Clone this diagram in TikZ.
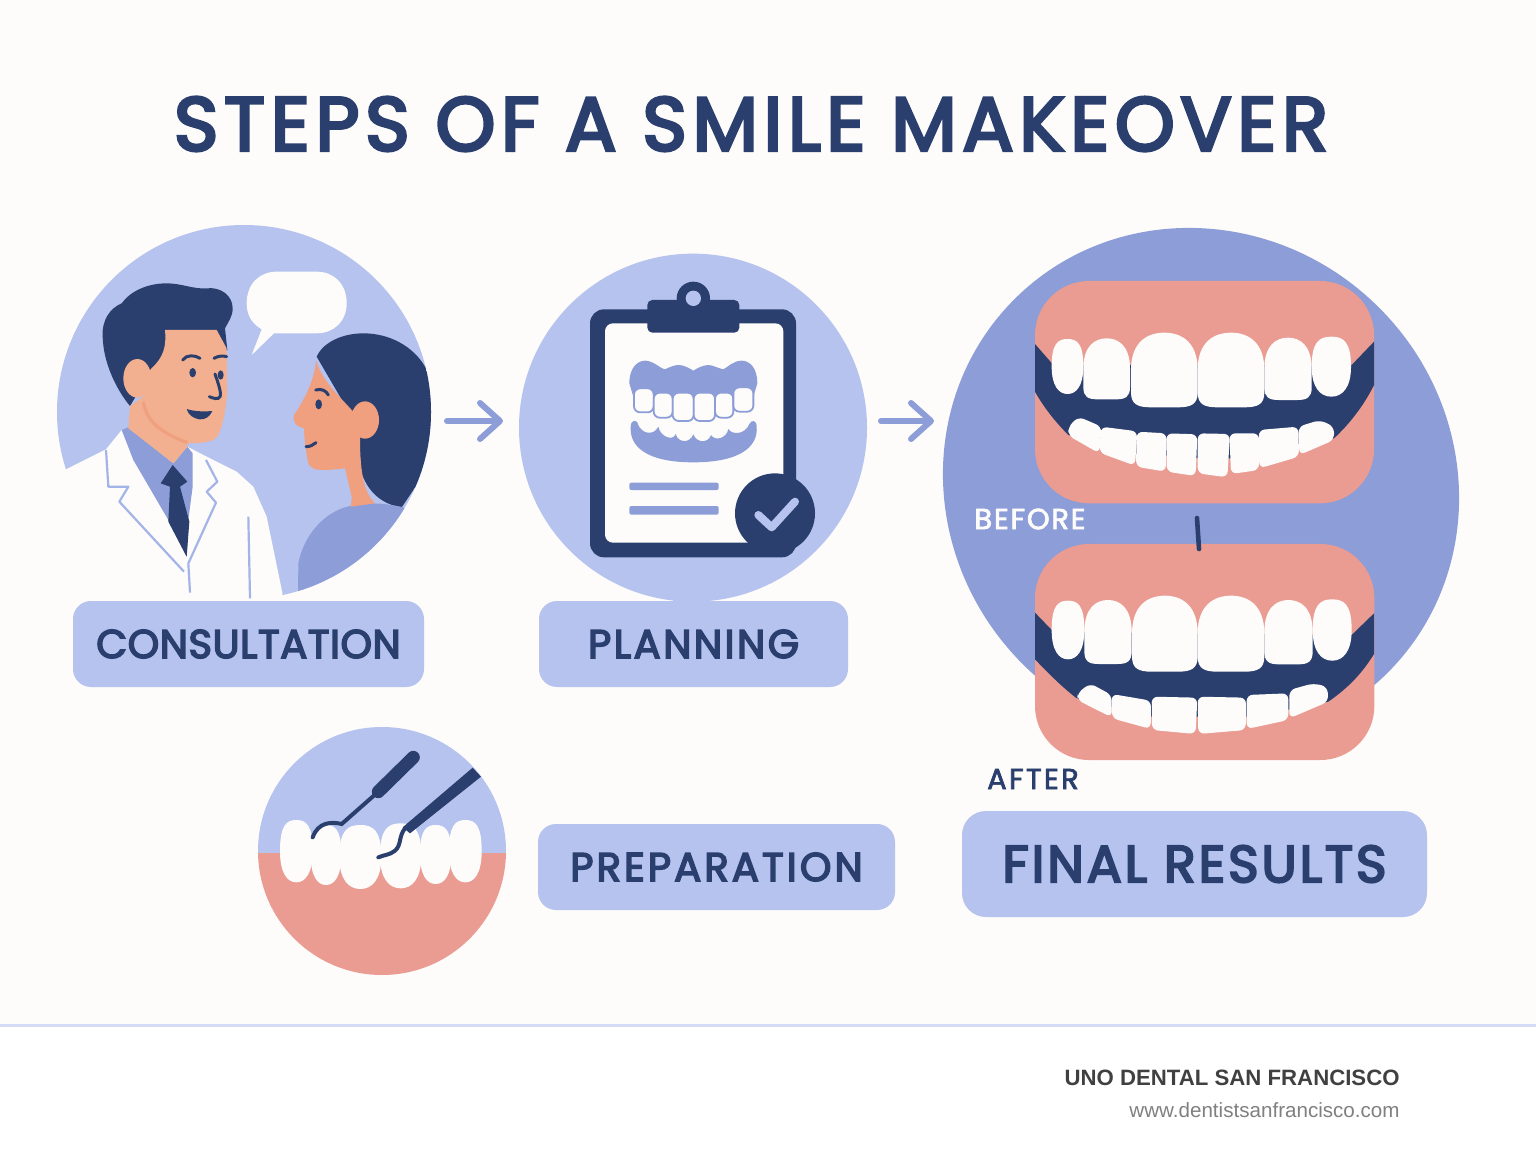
\documentclass[tikz,border=0pt]{standalone}
\usepackage{fontspec}
\usetikzlibrary{arrows.meta}
\setmainfont{Liberation Sans}
\newfontfamily\headfont[FakeBold=4]{Poppins}
\newfontfamily\tagfont[FakeBold=2.5]{Poppins}
\newcommand{\spaced}[2]{{\addfontfeature{LetterSpace=#1}#2}}
\definecolor{paper}{HTML}{FDFCFA}
\definecolor{pale}{HTML}{B5C3EE}
\definecolor{mid}{HTML}{8C9DD8}
\definecolor{navy}{HTML}{2B3F6F}
\definecolor{gum}{HTML}{EA9C92}
\definecolor{skin}{HTML}{F2B090}
\definecolor{skindark}{HTML}{F0A07F}
\definecolor{coatline}{HTML}{A3B5E8}
\tikzset{
  labelbox/.style={fill=pale, rounded corners=9pt, minimum height=43pt, inner sep=0pt, text=navy, font=\headfont\fontsize{20}{24}\selectfont},
  stepline/.style={draw=mid, line width=3pt, line cap=round, -{Straight Barb[length=10pt,width=18pt,round]}},
  zoomed/.style={x=0.16667pt, y=-0.16667pt},
  toothfill/.style={fill=paper},
  lowertooth/.style={fill=paper, rounded corners=3pt},
  dentaltooth/.style={fill=paper, draw=mid, line width=0.9pt, rounded corners=3pt},
  coatstroke/.style={draw=coatline, line width=1.1pt, line join=round},
  facestroke/.style={draw=navy, line width=1.5pt, line cap=round}
}
\newcommand{\uppertooth}[4]{%
  \pgfmathsetmacro{\toothw}{#2-#1}\pgfmathsetmacro{\toothh}{#4-#3}%
  \fill[toothfill] (#1,{#3+.5*\toothh}) .. controls (#1,{#3+.12*\toothh}) and ({#1+.25*\toothw},#3) .. ({#1+.5*\toothw},#3)
    .. controls ({#2-.25*\toothw},#3) and (#2,{#3+.12*\toothh}) .. (#2,{#3+.5*\toothh})
    -- (#2,{#4-.2*\toothh}) .. controls (#2,{#4-.04*\toothh}) and ({#2-.1*\toothw},#4) .. ({#2-.3*\toothw},#4)
    -- ({#1+.3*\toothw},#4) .. controls ({#1+.1*\toothw},#4) and (#1,{#4-.04*\toothh}) .. (#1,{#4-.2*\toothh}) -- cycle;%
}
\newcommand{\preptooth}[4]{%
  \pgfmathsetmacro{\toothw}{#2-#1}\pgfmathsetmacro{\toothh}{#4-#3}%
  \fill[toothfill] (#1,{#3+.5*\toothh}) .. controls (#1,{#3+.08*\toothh}) and ({#1+.2*\toothw},#3) .. ({#1+.5*\toothw},#3)
    .. controls ({#2-.2*\toothw},#3) and (#2,{#3+.08*\toothh}) .. (#2,{#3+.5*\toothh})
    .. controls (#2,{#3+.85*\toothh}) and ({#2-.22*\toothw},#4) .. ({#1+.5*\toothw},#4)
    .. controls ({#1+.22*\toothw},#4) and (#1,{#3+.85*\toothh}) .. cycle;%
}
\begin{document}
\begin{tikzpicture}[x=0.5pt, y=-0.5pt]
  \useasboundingbox (0,0) rectangle (1536,1154);
  \fill[paper] (0,0) rectangle (1536,1154);
  \fill[white] (0,1026) rectangle (1536,1154);
  \draw[color=pale!60, line width=1.5pt] (0,1025) -- (1536,1025);

  \node[text=navy, inner sep=0pt, font=\headfont\fontsize{38}{44}\selectfont] at (751, 124) (title) {\spaced{7.4}{STEPS OF A SMILE MAKEOVER}};

  % consultation
  \begin{scope}[shift={(50,220)}, zoomed]
    \fill[pale] (582,576) circle[radius=561];
    \fill[paper] (48,748) -- (168,688) -- (215,630) -- (412,680) -- (470,710) -- (560,755) -- (610,800) -- (650,890) -- (697,1118) -- (697,1150) -- (20,1150) -- (20,760) -- cycle;
    \fill[paper] (590,250) .. controls (590,190) and (630,155) .. (680,155) -- (800,155) .. controls (850,155) and (890,190) .. (890,250) .. controls (890,305) and (850,340) .. (800,340) -- (672,340) -- (605,405) -- (635,328) .. controls (605,310) and (590,285) .. (590,250) -- cycle;
    \fill[mid] (215,630) -- (235,622) -- (370,730) -- (412,680) -- (428,700) -- (428,800) -- (415,900) -- (410,1010) -- (355,900) -- (250,720) -- cycle;
    \fill[navy] (368,735) -- (412,785) -- (390,800) -- (418,905) -- (410,1010) -- (355,905) -- (360,800) -- (332,790) -- cycle;
    \draw[coatstroke] (168,690) -- (175,800) -- (235,800) -- (208,845) -- (402,1055);
    \draw[coatstroke] (468,720) -- (502,785) -- (470,815) -- (498,848) -- (415,1030) -- (420,1118);
    \draw[coatstroke] (595,890) -- (600,1135);

    \fill[navy] (158,350) .. controls (155,300) and (180,265) .. (215,250) .. controls (240,215) and (290,190) .. (350,190) .. controls (395,190) and (430,208) .. (470,205) .. controls (510,200) and (548,225) .. (548,265) .. controls (548,290) and (535,305) .. (525,325) -- (532,390) -- (345,400) -- (305,450) -- (240,558) .. controls (200,510) and (160,430) .. (158,350) -- cycle;
    \fill[skin] (240,558) -- (280,530) -- (412,660) -- (412,680) -- (370,730) -- (235,625) -- cycle;
    \fill[skin] (345,330) -- (500,330) -- (530,385) -- (532,520) .. controls (525,580) and (520,610) .. (505,645) .. controls (495,665) and (460,670) .. (412,670) -- (360,650) .. controls (310,625) and (285,590) .. (280,535) -- (300,450) .. controls (325,425) and (352,400) .. (345,330) -- cycle;
    \fill[skin] (262,475) ellipse[x radius=42, y radius=58];
    \draw[skindark, line width=1.6pt] (280,545) .. controls (290,610) and (340,640) .. (412,668);
    \draw[facestroke] (398,420) .. controls (410,403) and (435,405) .. (450,415);
    \draw[facestroke] (492,415) .. controls (505,407) and (520,407) .. (530,410);
    \fill[navy] (428,458) ellipse[x radius=10, y radius=14];
    \fill[navy] (512,465) ellipse[x radius=9, y radius=14];
    \draw[facestroke] (495,462) .. controls (505,490) and (515,520) .. (510,530) .. controls (505,540) and (490,535) .. (478,530);
    \fill[navy] (410,567) .. controls (435,575) and (465,575) .. (487,573) .. controls (480,590) and (465,600) .. (448,598) .. controls (430,595) and (415,585) .. (410,567) -- cycle;

    \begin{scope}
      \clip (582,576) circle[radius=561];
      \fill[navy] (800,410) .. controls (820,365) and (880,340) .. (940,340) .. controls (1020,340) and (1090,380) .. (1125,440) -- (1160,520) -- (1160,660) -- (1110,780) -- (1055,862) .. controls (1010,855) and (960,830) .. (935,760) -- (925,655) -- (870,530) -- cycle;
      \fill[mid] (744,1150) -- (745,1030) .. controls (760,950) and (820,875) .. (900,858) .. controls (950,845) and (1010,850) .. (1060,862) -- (1200,1000) -- (900,1150) -- cycle;
    \end{scope}
    \fill[skindark] (798,420) .. controls (795,470) and (770,530) .. (732,585) .. controls (725,610) and (745,622) .. (762,625) .. controls (762,650) and (768,700) .. (775,730) .. controls (785,750) and (800,755) .. (885,745) -- (905,830) -- (903,860) -- (975,850) .. controls (945,820) and (930,770) .. (930,655) -- (940,600) -- (905,570) .. controls (860,520) and (815,480) .. (798,420) -- cycle;
    \fill[skindark] (945,600) ellipse[x radius=42, y radius=56];
    \draw[facestroke] (797,510) .. controls (815,505) and (828,512) .. (835,525);
    \fill[navy] (806,553) ellipse[x radius=10, y radius=15];
    \draw[facestroke] (768,680) .. controls (780,680) and (790,675) .. (798,668);
  \end{scope}

  % planning
  \begin{scope}[shift={(510,250)}, zoomed]
    \fill[pale] (549,533) circle[radius=522];
    \fill[pale] (490,1040) rectangle (590,1065);
    \fill[navy, rounded corners=7pt] (240,178) rectangle (858,922);
    \fill[paper, rounded corners=4pt] (285,220) rectangle (820,878);
    \fill[navy, rounded corners=2.5pt] (412,150) rectangle (688,248);
    \fill[navy] (550,145) circle[radius=50];
    \fill[pale] (550,145) circle[radius=23];

    \fill[mid] (358,400) .. controls (358,350) and (385,332) .. (405,332) .. controls (430,332) and (450,355) .. (465,358) .. controls (480,350) and (495,345) .. (507,345) .. controls (520,345) and (540,355) .. (550,362) .. controls (560,355) and (580,345) .. (595,345) .. controls (607,345) and (625,355) .. (640,358) .. controls (655,350) and (670,332) .. (695,332) .. controls (720,332) and (742,355) .. (742,400) -- (730,440) -- (370,440) -- cycle;
    \foreach \lft/\rgt/\tp/\bt in {372/431/415/487, 431/488/428/503, 488/551/428/513, 551/615/428/513, 615/670/428/503, 670/730/412/485}
      \draw[dentaltooth] (\lft,\tp) rectangle (\rgt,\bt);
    \fill[mid] (362,530) .. controls (362,510) and (380,505) .. (385,525) .. controls (395,550) and (430,560) .. (445,530) .. controls (450,560) and (490,575) .. (497,552) .. controls (505,580) and (540,580) .. (550,553) .. controls (560,580) and (595,580) .. (603,555) .. controls (615,575) and (650,565) .. (655,537) .. controls (665,555) and (705,555) .. (718,522) .. controls (725,508) and (740,510) .. (740,530) .. controls (745,590) and (690,637) .. (550,637) .. controls (410,637) and (358,590) .. (362,530) -- cycle;

    \fill[mid, rounded corners=1pt] (358,698) rectangle (626,720);
    \fill[mid, rounded corners=1pt] (358,768) rectangle (626,794);
    \fill[navy] (795,790) circle[radius=120];
    \draw[pale, line width=4pt, line cap=round, line join=round] (745,795) -- (785,832) -- (855,755);
  \end{scope}

  % results
  \fill[mid, rotate around={-45:(1201,486)}] (1201,486) ellipse[x radius=264, y radius=252];
  \begin{scope}[shift={(1020,270)}, zoomed]
    \fill[gum, rounded corners=27pt] (45,33) rectangle (1062,700);
    \fill[navy] (45,222) -- (100,285) -- (995,285) -- (1062,215) -- (1062,345) .. controls (1030,410) and (985,465) .. (942,505) -- (840,530) -- (600,570) -- (350,550) -- (240,520) -- (145,495) .. controls (105,455) and (70,410) .. (45,365) -- cycle;
    \foreach \lft/\rgt/\tp/\bt in {190/330/205/388, 333/533/188/412, 533/733/188/412, 733/875/203/390}
      \uppertooth{\lft}{\rgt}{\tp}{\bt};
    \preptooth{95}{190}{207}{372}
    \preptooth{875}{993}{200}{380}
    \fill[lowertooth] (145,470) -- (175,440) -- (245,470) -- (238,550) -- (145,497) -- cycle;
    \fill[lowertooth] (243,470) -- (352,484) -- (345,587) -- (238,548) -- cycle;
    \fill[lowertooth] (350,485) -- (440,490) -- (437,605) -- (348,590) -- cycle;
    \fill[lowertooth] (439,490) -- (532,493) -- (527,618) -- (440,605) -- cycle;
    \fill[lowertooth] (533,490) -- (630,492) -- (622,622) -- (533,610) -- cycle;
    \fill[lowertooth] (628,490) -- (717,490) -- (717,600) -- (633,612) -- cycle;
    \fill[lowertooth] (716,480) -- (835,470) -- (837,560) -- (718,595) -- cycle;
    \fill[lowertooth] (835,470) -- (900,450) -- (942,470) -- (942,510) -- (838,555) -- cycle;
  \end{scope}
  \begin{scope}[shift={(1020,530)}, zoomed]
    \fill[gum, rounded corners=27pt] (45,42) rectangle (1063,690);
    \fill[navy] (45,248) -- (100,305) -- (995,315) -- (1062,250) -- (1062,372) .. controls (1020,440) and (975,480) .. (925,515) -- (700,560) -- (390,560) -- (275,530) -- (170,505) .. controls (125,470) and (85,430) .. (45,388) -- cycle;
    \foreach \lft/\rgt/\tp/\bt in {193/335/210/402, 336/533/197/425, 533/733/197/425, 733/878/210/403}
      \uppertooth{\lft}{\rgt}{\tp}{\bt};
    \preptooth{95}{193}{212}{388}
    \preptooth{878}{995}{208}{392}
    \fill[lowertooth] (172,490) -- (210,460) -- (275,495) -- (275,562) -- (172,510) -- cycle;
    \fill[lowertooth] (275,492) -- (393,512) -- (392,597) -- (276,565) -- cycle;
    \fill[lowertooth] (395,500) -- (532,503) -- (527,612) -- (396,600) -- cycle;
    \fill[lowertooth] (533,500) -- (678,503) -- (677,600) -- (535,612) -- cycle;
    \fill[lowertooth] (680,495) -- (805,490) -- (805,570) -- (680,597) -- cycle;
    \fill[lowertooth] (808,480) -- (880,460) -- (922,470) -- (925,515) -- (808,565) -- cycle;
  \end{scope}
  \coordinate (smiletop) at (1197,518);
  \coordinate (smilelow) at (1199,549);
  \draw[navy, line width=2.3pt, line cap=round] (smiletop) -- (smilelow);
  \node[text=paper, inner sep=0pt, font=\tagfont\fontsize{14.5}{18}\selectfont] at (1030, 519) (before) {\spaced{6}{BEFORE}};
  \node[text=navy, inner sep=0pt, font=\tagfont\fontsize{14.5}{18}\selectfont] at (1033, 779) (after) {\spaced{8}{AFTER}};

  % preparation
  \begin{scope}
    \clip (382,851) circle[radius=124];
    \fill[pale] (250,720) rectangle (510,853);
    \fill[gum] (250,853) rectangle (510,980);
  \end{scope}
  \begin{scope}[shift={(250,720)}, zoomed]
    \foreach \lft/\rgt/\tp/\bt in {90/188/300/487, 182/274/315/495, 268/394/315/507, 390/514/310/505, 510/604/315/492, 597/695/300/487}
      \preptooth{\lft}{\rgt}{\tp}{\bt};
    \draw[navy, line width=6.5pt, line cap=round] (490,112) -- (385,215);
    \draw[navy, line width=2pt, line cap=round] (385,215) -- (275,312) .. controls (245,305) and (205,305) .. (188,352);
    \fill[navy] (668,143) -- (693,170) -- (480,340) -- (458,322) -- cycle;
    \draw[navy, line width=2pt, line cap=round] (465,325) .. controls (445,350) and (455,375) .. (435,392) .. controls (420,405) and (400,405) .. (385,412);
  \end{scope}

  \node[labelbox, minimum width=175.5pt] at (248.5, 644) (consultation) {\spaced{1.5}{CONSULTATION}};
  \node[labelbox, minimum width=154.5pt] at (693.5, 644) (planning) {\spaced{6.5}{PLANNING}};
  \node[labelbox, minimum width=178.5pt] at (716.5, 867) (preparation) {\spaced{8}{PREPARATION}};
  \node[labelbox, minimum width=232.5pt, minimum height=53pt, rounded corners=12pt, font=\headfont\fontsize{26}{30}\selectfont] at (1194.5, 864) (results) {\spaced{5.6}{FINAL RESULTS}};

  \coordinate (firststart) at (447,421);
  \coordinate (firstend) at (503,421);
  \coordinate (secondstart) at (881,421);
  \coordinate (secondend) at (934,421);
  \draw[stepline] (firststart) -- (firstend);
  \draw[stepline] (secondstart) -- (secondend);

  \node[text=black!75, anchor=east, inner sep=0pt, font=\bfseries\fontsize{11.1}{14}\selectfont] at (1400, 1078) (clinic) {UNO DENTAL SAN FRANCISCO};
  \node[text=black!50, anchor=east, inner sep=0pt, font=\fontsize{10.3}{13}\selectfont] at (1400, 1110) (website) {www.dentistsanfrancisco.com};
\end{tikzpicture}
\end{document}
